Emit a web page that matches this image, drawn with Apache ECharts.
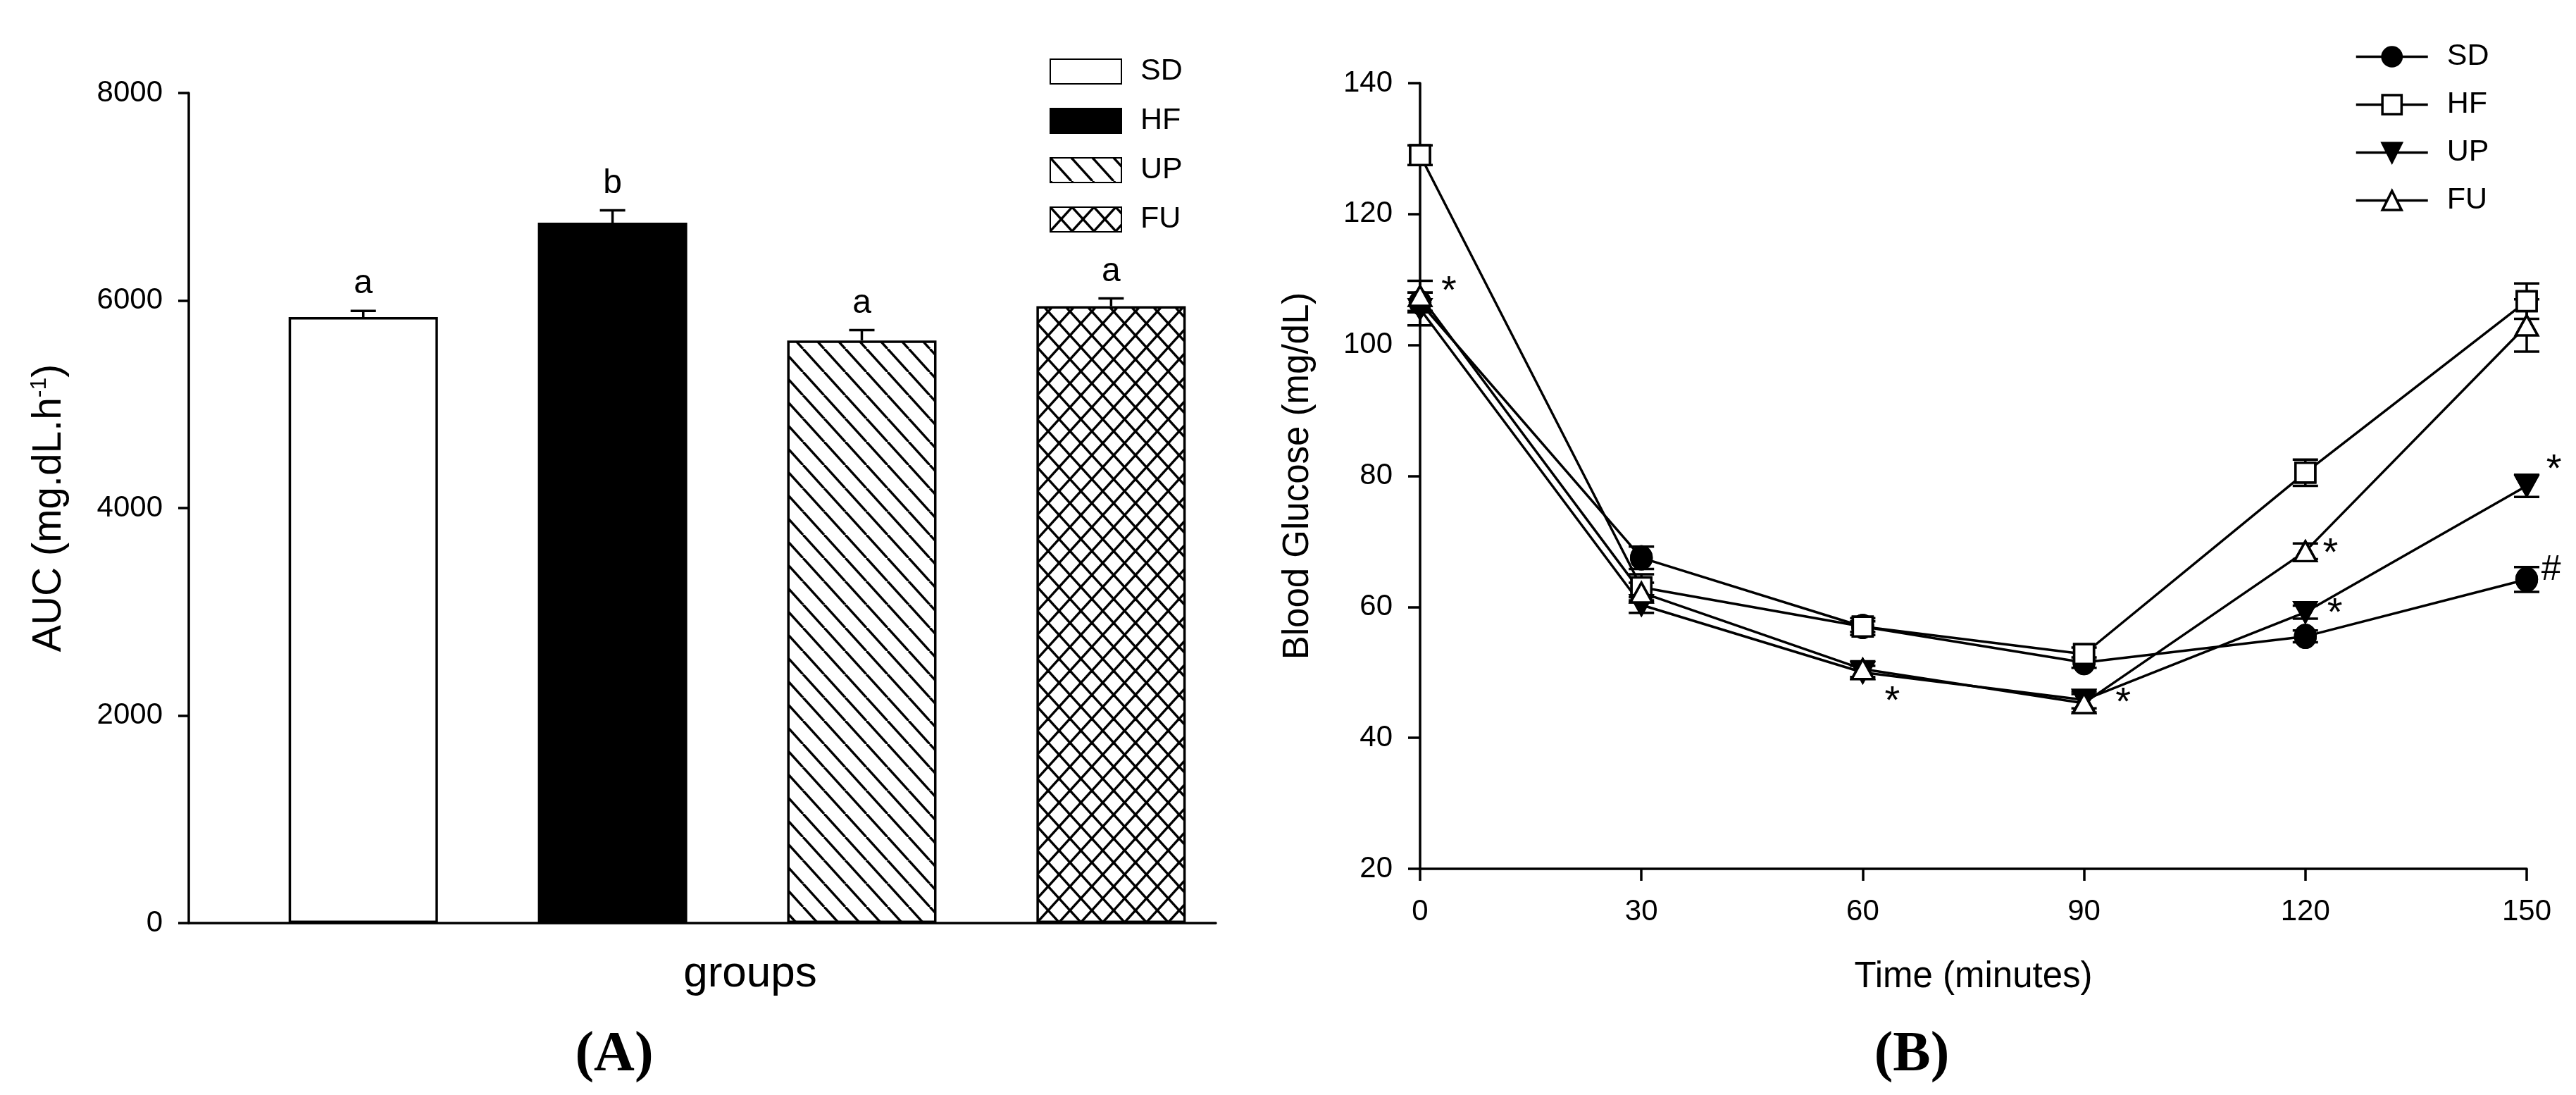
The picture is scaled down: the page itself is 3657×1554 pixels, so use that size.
<!DOCTYPE html>
<html><head><meta charset="utf-8">
<script src="https://cdn.jsdelivr.net/npm/echarts@6/dist/echarts.min.js"></script>
<style>html,body{margin:0;padding:0;background:#fff}#c{width:3657px;height:1554px}</style>
</head><body><div id="c"></div>
<script>
// ---------- Panel A : AUC bars ----------
const groups = ['SD', 'HF', 'UP', 'FU'];
const aucMean = [5840, 6750, 5615, 5945];
const aucSem = [60, 120, 100, 75];
const aucLetters = ['a', 'b', 'a', 'a'];
const aucTicks = [0, 2000, 4000, 6000, 8000];

// ---------- Panel B : glucose tolerance curves ----------
const times = [0, 30, 60, 90, 120, 150];
const sdMean = [106.5, 67.5, 57.0, 51.5, 55.5, 64.2];
const sdSem  = [1.5, 1.7, 0.8, 0.8, 0.9, 1.9];
const hfMean = [129.0, 63.0, 57.0, 52.8, 80.5, 106.7];
const hfSem  = [1.5, 2.0, 1.3, 1.0, 2.0, 2.7];
const upMean = [105.5, 60.3, 50.0, 45.8, 59.2, 78.5];
const upSem  = [2.5, 1.2, 1.0, 1.3, 1.0, 1.7];
const fuMean = [107.5, 62.2, 50.5, 45.3, 68.5, 103.0];
const fuSem  = [2.3, 1.5, 1.2, 1.4, 1.2, 4.0];
const glucoseTicks = [20, 40, 60, 80, 100, 120, 140];
const timeTicks = [0, 30, 60, 90, 120, 150];
// significance marks: x (min), y (mg/dL), symbol
const markX = [3.9, 64.0, 95.3, 123.4, 124.0, 153.7, 153.3];
const markY = [109.3, 46.6, 46.4, 69.2, 60.1, 82.0, 65.6];
const markText = ['*', '*', '*', '*', '*', '*', '#'];

const FONT = "'Liberation Sans', Arial, sans-serif";
const BLACK = '#000';

function hatch(w, h, cross) {
  const c = document.createElement('canvas');
  c.width = w; c.height = h;
  const g = c.getContext('2d');
  g.fillStyle = '#fff'; g.fillRect(0, 0, w, h);
  g.strokeStyle = '#000'; g.lineWidth = 3.5;
  for (let k = -1; k <= 1; k++) {
    g.beginPath(); g.moveTo(k * w, 0); g.lineTo(k * w + w, h); g.stroke();
    if (cross) { g.beginPath(); g.moveTo(k * w, h); g.lineTo(k * w + w, 0); g.stroke(); }
  }
  return c;
}
const barFills = [
  '#ffffff',
  '#000000',
  { image: hatch(30, 33, false), repeat: 'repeat' },
  { image: hatch(31, 34, true), repeat: 'repeat' }
];

const lineGroups = [
  { name: 'SD (B)', mean: sdMean, sem: sdSem, symbol: 'circle', size: [29, 32], rot: 0, fill: '#000' },
  { name: 'HF (B)', mean: hfMean, sem: hfSem, symbol: 'rect', size: [28, 28], rot: 0, fill: '#fff' },
  { name: 'UP (B)', mean: upMean, sem: upSem, symbol: 'triangle', size: [31, 28], rot: 180, fill: '#000' },
  { name: 'FU (B)', mean: fuMean, sem: fuSem, symbol: 'triangle', size: [31, 28], rot: 0, fill: '#fff' }
];

const series = [];
groups.forEach((g, i) => {
  series.push({
    type: 'bar', name: g, xAxisIndex: 0, yAxisIndex: 0,
    data: [[i + 1, aucMean[i]]], barWidth: 212, barGap: '-100%', z: 2,
    itemStyle: { color: barFills[i], borderColor: BLACK, borderWidth: 3.5 }
  });
});
series.push({
  type: 'custom', name: 'aucErr', xAxisIndex: 0, yAxisIndex: 0, z: 4,
  data: groups.map((g, i) => [i + 1, aucMean[i], aucSem[i]]),
  encode: { x: 0, y: 1 },
  renderItem: function (params, api) {
    const x = api.value(0), m = api.value(1), e = api.value(2);
    const p0 = api.coord([x, m]), p1 = api.coord([x, m + e]);
    const hw = 18;
    return { type: 'group', children: [
      { type: 'line', shape: { x1: p0[0], y1: p0[1], x2: p1[0], y2: p1[1] }, style: { stroke: BLACK, lineWidth: 3.5 } },
      { type: 'line', shape: { x1: p1[0] - hw, y1: p1[1], x2: p1[0] + hw, y2: p1[1] }, style: { stroke: BLACK, lineWidth: 3.5 } },
      { type: 'text', x: p1[0], y: p1[1] - 14, style: { text: aucLetters[params.dataIndex], fontSize: 48, fontFamily: FONT, fill: BLACK, align: 'center', verticalAlign: 'bottom' } }
    ] };
  }
});

lineGroups.forEach(lg => {
  series.push({
    type: 'line', name: lg.name, xAxisIndex: 1, yAxisIndex: 1, z: 2,
    data: times.map((t, i) => [t, lg.mean[i]]),
    symbol: lg.symbol, symbolSize: lg.size, symbolRotate: lg.rot, showSymbol: true,
    lineStyle: { color: BLACK, width: 3.5 },
    itemStyle: { color: lg.fill, borderColor: BLACK, borderWidth: 3.5 }
  });
});
series.push({
  type: 'custom', name: 'glucErr', xAxisIndex: 1, yAxisIndex: 1, z: 3,
  data: [].concat(...lineGroups.map(lg => times.map((t, i) => [t, lg.mean[i], lg.sem[i]]))),
  encode: { x: 0, y: 1 },
  renderItem: function (params, api) {
    const x = api.value(0), m = api.value(1), e = api.value(2);
    const lo = api.coord([x, m - e]), hi = api.coord([x, m + e]);
    const hw = 18;
    const st = { stroke: BLACK, lineWidth: 3.5 };
    return { type: 'group', children: [
      { type: 'line', shape: { x1: lo[0], y1: lo[1], x2: hi[0], y2: hi[1] }, style: st },
      { type: 'line', shape: { x1: lo[0] - hw, y1: lo[1], x2: lo[0] + hw, y2: lo[1] }, style: st },
      { type: 'line', shape: { x1: hi[0] - hw, y1: hi[1], x2: hi[0] + hw, y2: hi[1] }, style: st }
    ] };
  }
});
lineGroups.forEach(lg => {
  series.push({
    type: 'scatter', name: 'mk-' + lg.name, xAxisIndex: 1, yAxisIndex: 1, z: 5,
    data: times.map((t, i) => [t, lg.mean[i]]),
    symbol: lg.symbol, symbolSize: lg.size, symbolRotate: lg.rot,
    itemStyle: { color: lg.fill, borderColor: BLACK, borderWidth: 3.5, opacity: 1 }
  });
});
series.push({
  type: 'custom', name: 'marks', xAxisIndex: 1, yAxisIndex: 1, z: 6,
  data: markX.map((x, i) => [x, markY[i]]),
  encode: { x: 0, y: 1 },
  renderItem: function (params, api) {
    const p = api.coord([api.value(0), api.value(1)]);
    const t = markText[params.dataIndex];
    return { type: 'text', x: p[0], y: p[1] + (t === '*' ? 11 : 0),
      style: { text: t, fontSize: t === '*' ? 56 : 50, fontFamily: FONT, fill: BLACK, align: 'center', verticalAlign: 'middle' } };
  }
});

const axLine = { show: true, onZero: false, lineStyle: { color: BLACK, width: 3.5 } };
const axTick = (len) => ({ show: true, inside: false, length: len, lineStyle: { color: BLACK, width: 3.5 } });
const plain = v => String(v);

const option = {
  animation: false,
  backgroundColor: '#fff',
  grid: [
    { left: 268, top: 132, width: 1458, height: 1178 },
    { left: 2016, top: 118, width: 1571, height: 1115 }
  ],
  xAxis: [
    { type: 'value', gridIndex: 0, min: 0.3, max: 4.42, axisLine: axLine, axisTick: { show: false },
      axisLabel: { show: false }, splitLine: { show: false },
      name: 'groups', nameLocation: 'middle', nameGap: 42,
      nameTextStyle: { fontSize: 62, fontFamily: FONT, color: BLACK, padding: [0, 0, 0, 136] } },
    { type: 'value', gridIndex: 1, min: timeTicks[0], max: timeTicks[timeTicks.length - 1], interval: 30,
      axisLine: axLine, axisTick: axTick(17),
      axisLabel: { fontSize: 42, fontFamily: FONT, color: BLACK, margin: 40, formatter: plain }, splitLine: { show: false },
      name: 'Time (minutes)', nameLocation: 'middle', nameGap: 128,
      nameTextStyle: { fontSize: 51, fontFamily: FONT, color: BLACK } }
  ],
  yAxis: [
    { type: 'value', gridIndex: 0, min: aucTicks[0], max: aucTicks[aucTicks.length - 1], interval: 2000,
      axisLine: axLine, axisTick: axTick(15),
      axisLabel: { fontSize: 42, fontFamily: FONT, color: BLACK, margin: 37, formatter: plain }, splitLine: { show: false },
      name: 'AUC (mg.dL.h{sup|-1})', nameLocation: 'middle', nameGap: 168,
      nameTextStyle: { fontSize: 57, fontFamily: FONT, color: BLACK,
        rich: { sup: { fontSize: 32, fontFamily: FONT, color: BLACK, padding: [0, 0, 28, 0] } } } },
    { type: 'value', gridIndex: 1, min: glucoseTicks[0], max: glucoseTicks[glucoseTicks.length - 1], interval: 20,
      axisLine: axLine, axisTick: axTick(17),
      axisLabel: { fontSize: 42, fontFamily: FONT, color: BLACK, margin: 39, formatter: plain }, splitLine: { show: false },
      name: 'Blood Glucose (mg/dL)', nameLocation: 'middle', nameGap: 148,
      nameTextStyle: { fontSize: 51, fontFamily: FONT, color: BLACK } }
  ],
  legend: [
    { data: groups, orient: 'vertical', left: 1485, top: 75, itemWidth: 101, itemHeight: 35, itemGap: 27,
      icon: 'rect', textStyle: { fontSize: 43, fontFamily: FONT, color: BLACK, padding: [0, 0, 0, 22] },
      selectedMode: false },
    { data: lineGroups.map(l => l.name), orient: 'vertical', left: 3338, top: 54, itemWidth: 102, itemHeight: 34, itemGap: 25,
      formatter: n => n.split(' ')[0],
      lineStyle: { color: BLACK, width: 3.5 },
      itemStyle: { borderColor: BLACK, borderWidth: 3.5 },
      textStyle: { fontSize: 43, fontFamily: FONT, color: BLACK, padding: [0, 0, 0, 22] },
      selectedMode: false }
  ],
  graphic: [
    { type: 'text', x: 872, y: 1498, style: { text: '(A)', font: "bold 80px 'Liberation Serif', 'Times New Roman', serif", fill: BLACK, align: 'center', verticalAlign: 'middle' } },
    { type: 'text', x: 2714, y: 1498, style: { text: '(B)', font: "bold 80px 'Liberation Serif', 'Times New Roman', serif", fill: BLACK, align: 'center', verticalAlign: 'middle' } }
  ],
  series: series
};

const chart = echarts.init(document.getElementById('c'), null, { renderer: 'canvas' });
chart.setOption(option);
</script>
</body></html>
